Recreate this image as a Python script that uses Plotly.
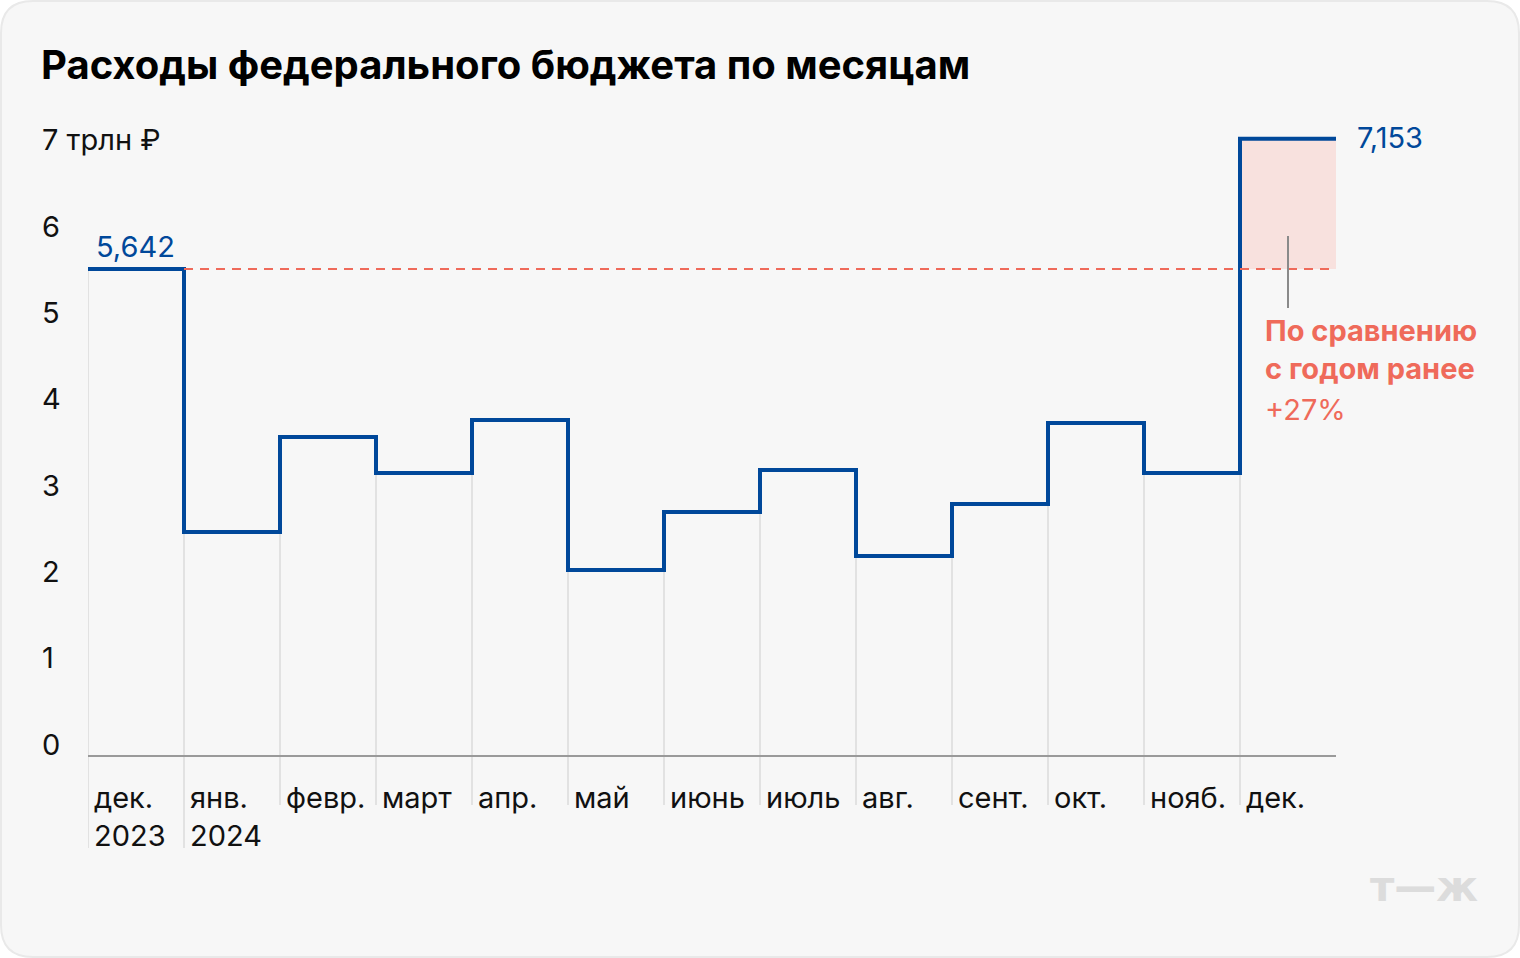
import plotly.graph_objects as go

# ---- data ----
months = ["дек.<br>2023", "янв.<br>2024", "февр.", "март", "апр.", "май", "июнь",
          "июль", "авг.", "сент.", "окт.", "нояб.", "дек."]
values = [5.642, 2.596, 3.696, 3.279, 3.893, 2.155, 2.827, 3.314, 2.318, 2.920, 3.859, 3.279, 7.153]
y_ticks = [0, 1, 2, 3, 4, 5, 6, 7]
y_tick_text = ["0", "1", "2", "3", "4", "5", "6", "7 трлн ₽"]
first_label = "5,642"
last_label = "7,153"
note_bold = "По сравнению<br>с годом ранее"
note_pct = "+27%"
title = "Расходы федерального бюджета по месяцам"

W, H = 1520, 958
L, R = 88, 1336          # plot area pixel edges
T, B = 100, 860
Y0PX = 756
PXU = 86.3
ymax = (Y0PX - T) / PXU
ymin = -(B - Y0PX) / PXU

BLUE = "#00489A"
RED = "#EF6A5A"
FONT = "Inter"
FS = 29

def px2y(py):
    return (Y0PX - py) / PXU

def pxx(px):
    return (px - L) / (R - L)

def pxy(py):
    return (B - py) / (B - T)

n = len(values)
# step line
sx, sy = [], []
for i, v in enumerate(values):
    sx += [i, i + 1]
    sy += [v, v]

# vertical grid lines at boundaries
gx, gy = [], []
for i in range(n):
    top = values[0] if i == 0 else min(values[i - 1], values[i])
    bottom = px2y(848) if i < 2 else px2y(805)
    gx += [i, i, None]
    gy += [top, bottom, None]

fig = go.Figure()
fig.add_trace(go.Scatter(x=gx, y=gy, mode="lines", line=dict(color="#E2E2E2", width=2),
                         hoverinfo="skip", showlegend=False))
fig.add_trace(go.Scatter(x=sx, y=sy, mode="lines", line=dict(color=BLUE, width=4),
                         showlegend=False))

shapes = []
# card background
r = 32
x0, x1, y0, y1 = pxx(1), pxx(W - 1), pxy(1), pxy(H - 1)
rx, ry = r / (R - L), r / (B - T)
path = (f"M {x0+rx},{y0} L {x1-rx},{y0} Q {x1},{y0} {x1},{y0-ry} "
        f"L {x1},{y1+ry} Q {x1},{y1} {x1-rx},{y1} L {x0+rx},{y1} Q {x0},{y1} {x0},{y1+ry} "
        f"L {x0},{y0-ry} Q {x0},{y0} {x0+rx},{y0} Z")
shapes.append(dict(type="path", xref="paper", yref="paper", path=path,
                   fillcolor="#F7F7F7", line=dict(color="#E9E9E9", width=2), layer="below"))
# pink difference rect
shapes.append(dict(type="rect", x0=n - 1, x1=n, y0=values[0], y1=values[-1],
                   fillcolor="#F8E1DE", line=dict(width=0), layer="below"))
# dashed reference
shapes.append(dict(type="line", x0=1, x1=n, y0=values[0], y1=values[0],
                   line=dict(color=RED, width=2, dash="9px,7px"), layer="above"))
# baseline
shapes.append(dict(type="line", x0=0, x1=n, y0=0, y1=0,
                   line=dict(color="#9A9A9A", width=2), layer="above"))
# annotation pointer
shapes.append(dict(type="line", x0=n - 0.5, x1=n - 0.5, y0=px2y(236), y1=px2y(308),
                   line=dict(color="#8A8A8A", width=2), layer="above"))
fig.update_layout(shapes=shapes)

ann = []
for v, t in zip(y_ticks, y_tick_text):
    ann.append(dict(x=pxx(40), xref="paper", y=v, yref="y", text=t, showarrow=False,
                    xanchor="left", yanchor="middle", yshift=12,
                    font=dict(family=FONT, size=FS, color="#111111")))
for i, m in enumerate(months):
    ann.append(dict(x=i, y=px2y(778), text=m, showarrow=False, xanchor="left", yanchor="top",
                    xshift=4, align="left",
                    font=dict(family=FONT, size=FS, color="#111111")))
ann.append(dict(x=0, y=values[0], text=first_label, showarrow=False, xanchor="left",
                yanchor="middle", xshift=6, yshift=23,
                font=dict(family=FONT, size=FS, color=BLUE)))
ann.append(dict(x=n, y=values[-1], text=last_label, showarrow=False, xanchor="left",
                yanchor="middle", xshift=19, yshift=1,
                font=dict(family=FONT, size=FS, color=BLUE)))
ann.append(dict(x=n - 1, y=px2y(311), text="<b>" + note_bold + "</b>", showarrow=False,
                xanchor="left", yanchor="top", xshift=23, align="left",
                font=dict(family=FONT, size=FS, color=RED)))
ann.append(dict(x=n - 1, y=px2y(390), text=note_pct, showarrow=False,
                xanchor="left", yanchor="top", xshift=23, align="left",
                font=dict(family=FONT, size=FS, color=RED)))
ann.append(dict(x=pxx(39), xref="paper", y=pxy(64), yref="paper", text="<b>" + title + "</b>",
                showarrow=False, xanchor="left", yanchor="middle",
                font=dict(family=FONT, size=40, color="#000000")))
ann.append(dict(x=pxx(1480), xref="paper", y=pxy(886), yref="paper", text="<b>т—ж</b>",
                showarrow=False, xanchor="right", yanchor="middle",
                font=dict(family="DejaVu Sans", size=42, color="#DCDCDC")))
fig.update_layout(annotations=ann)

fig.update_layout(
    width=W, height=H,
    margin=dict(l=L, r=W - R, t=T, b=H - B, pad=0),
    paper_bgcolor="#FFFFFF", plot_bgcolor="rgba(0,0,0,0)",
    xaxis=dict(range=[0, n], visible=False, fixedrange=True),
    yaxis=dict(range=[ymin, ymax], visible=False, fixedrange=True),
    showlegend=False,
)

fig.write_html("out.html", config={"displayModeBar": False},
               post_script="document.body.style.margin='0';document.body.style.overflow='hidden';")
